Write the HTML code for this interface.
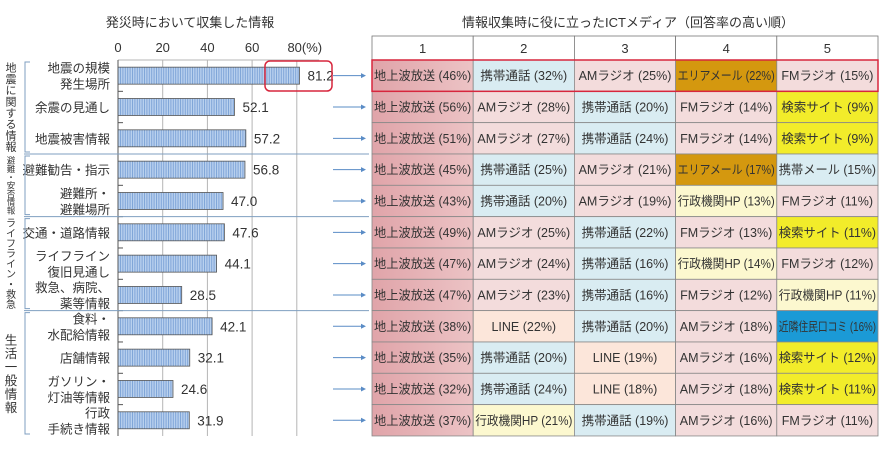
<!DOCTYPE html>
<html><head><meta charset="utf-8">
<style>
html,body{margin:0;padding:0;background:#fff;}
svg{display:block;font-family:"Liberation Sans","Noto Sans CJK JP",sans-serif;}
</style></head>
<body>
<svg id="chart" width="893" height="454" viewBox="0 0 893 454" xmlns="http://www.w3.org/2000/svg">
<defs>
<pattern id="stripes" width="2.4" height="10" patternUnits="userSpaceOnUse">
<rect width="2.4" height="10" fill="#b9d1ee"/>
<rect width="1" height="10" fill="#7ea4d8"/>
</pattern>
<linearGradient id="g1" x1="0" x2="1" y1="0" y2="0">
<stop offset="0" stop-color="#e0a4a9"/><stop offset="1" stop-color="#ecc3c5"/>
</linearGradient>
</defs>
<text x="190" y="27" font-size="13" text-anchor="middle" fill="#333">発災時において収集した情報</text>
<text x="628" y="27" font-size="13" text-anchor="middle" fill="#333">情報収集時に役に立ったICTメディア（回答率の高い順）</text>
<g id="bars"></g>
<g id="table"></g>
</svg>
<script>
const categories = ["地震の規模|発生場所","余震の見通し","地震被害情報","避難勧告・指示","避難所・|避難場所","交通・道路情報","ライフライン|復旧見通し","救急、病院、|薬等情報","食料・|水配給情報","店舗情報","ガソリン・|灯油等情報","行政|手続き情報"];
const values = [81.2,52.1,57.2,56.8,47.0,47.6,44.1,28.5,42.1,32.1,24.6,31.9];
const ticks = [0,20,40,60,80];
const groups = ["地震に関する情報","避難・安否情報","ライフライン・救急","生活一般情報"];
const groupRows = [[0,2],[3,4],[5,7],[8,11]];
const colHeaders = ["1","2","3","4","5"];
const media = [
["地上波放送","携帯通話","AMラジオ","エリアメール","FMラジオ"],
["地上波放送","AMラジオ","携帯通話","FMラジオ","検索サイト"],
["地上波放送","AMラジオ","携帯通話","FMラジオ","検索サイト"],
["地上波放送","携帯通話","AMラジオ","エリアメール","携帯メール"],
["地上波放送","携帯通話","AMラジオ","行政機関HP","FMラジオ"],
["地上波放送","AMラジオ","携帯通話","FMラジオ","検索サイト"],
["地上波放送","AMラジオ","携帯通話","行政機関HP","FMラジオ"],
["地上波放送","AMラジオ","携帯通話","FMラジオ","行政機関HP"],
["地上波放送","LINE","携帯通話","AMラジオ","近隣住民口コミ"],
["地上波放送","携帯通話","LINE","AMラジオ","検索サイト"],
["地上波放送","携帯通話","LINE","AMラジオ","検索サイト"],
["地上波放送","行政機関HP","携帯通話","AMラジオ","FMラジオ"]];
const shares = [
[46,32,25,22,15],[56,28,20,14,9],[51,27,24,14,9],[45,25,21,17,15],[43,20,19,13,11],[49,25,22,13,11],
[47,24,16,14,12],[47,23,16,12,11],[38,22,20,18,16],[35,20,19,16,12],[32,24,18,18,11],[37,21,19,16,11]];
const mediaColor = {"地上波放送":"url(#g1)","携帯通話":"#d9ecf2","AMラジオ":"#f3dcdc","FMラジオ":"#f3dcdc","エリアメール":"#d4980f","検索サイト":"#f2ec2a","携帯メール":"#d9ecf2","行政機関HP":"#fcf8cf","LINE":"#fce6da","近隣住民口コミ":"#1b9ad6"};

const NS="http://www.w3.org/2000/svg";
function mk(parent,tag,attrs,text){const e=document.createElementNS(NS,tag);for(const k in attrs)e.setAttribute(k,attrs[k]);if(text!==undefined)e.textContent=text;parent.appendChild(e);return e;}
const x0=118, pxPer=2.235, topY=60, rowH=31.33;
const xs=v=>x0+v*pxPer;
const yRow=i=>topY+i*rowH;
const gb=document.getElementById('bars');
const n=categories.length, bottomY=yRow(n);
ticks.forEach(t=>{
 if(t>0){const l=mk(gb,'line',{x1:xs(t),x2:xs(t),y1:topY,y2:bottomY,stroke:'#b5b5b5','stroke-width':1});
 
 }
 const tx=mk(gb,'text',{x:xs(t)+(t===80?8:0),y:52,'font-size':13,'text-anchor':'middle',fill:'#333'},t===80?'80(%)':String(t));
 
 
});
const topLine=mk(gb,'line',{x1:x0,x2:xs(90),y1:topY,y2:topY,stroke:'#b5b5b5'});


const ax=mk(gb,'line',{x1:x0,x2:x0,y1:topY,y2:bottomY,stroke:'#555'});


for(let i=1;i<n;i++){const t=mk(gb,'line',{x1:x0,x2:x0+5,y1:yRow(i),y2:yRow(i),stroke:'#555'});
 
 }
categories.forEach((c,i)=>{
 const cy=yRow(i)+rowH/2;
 const b=mk(gb,'rect',{x:x0,y:cy-8.5,width:values[i]*pxPer,height:17,fill:'url(#stripes)',stroke:'#555','stroke-width':0.8});
 
 
 const v=mk(gb,'text',{x:xs(values[i])+8,y:cy+5,'font-size':13.5,fill:'#333'},values[i].toFixed(1));
 
 
 const parts=c.split('|');
 parts.forEach((p,k)=>{const off=parts.length===1?5:(k===0?-3:13);
  const l=mk(gb,'text',{x:110,y:cy+off,'font-size':12.5,'text-anchor':'end',fill:'#333'},p);
  
  });
 const ar=mk(gb,'line',{x1:333,x2:362,y1:cy,y2:cy,stroke:'#5a8cc6','stroke-width':1});
 
 
 const ah=mk(gb,'polygon',{points:`${366},${cy} ${361},${cy-2.5} ${361},${cy+2.5}`,fill:'#5a8cc6'});
 
 
});
const steps=[11.3,8.3,10.2,13.5], fsz=[11,8.5,10,12.5];
groupRows.forEach((r,gi)=>{
 const y1=yRow(r[0])+2, y2=yRow(r[1]+1)-2;
 const br=mk(gb,'path',{d:`M30 ${y1} H25 V${y2} H30`,fill:'none',stroke:'#7f9fc0'});
 
 
 if(gi>0){const s=mk(gb,'line',{x1:24,x2:369,y1:yRow(r[0]),y2:yRow(r[0]),stroke:'#7f9fc0'});
  
  }
 const chars=[...groups[gi]];
 const mid=(y1+y2)/2, st=steps[gi];
 const t=mk(gb,'text',{'font-size':fsz[gi],'text-anchor':'middle',fill:'#333'});
 
 
 chars.forEach((ch,k)=>{mk(t,'tspan',{x:11,y:mid-(chars.length-1)*st/2+k*st+fsz[gi]*0.38},ch);});
});
const rb=mk(gb,'rect',{x:265,y:61,width:67,height:30,rx:5,fill:'none',stroke:'#d7263d','stroke-width':1.5});


const gt=document.getElementById('table');
const tx0=372, cw=101.2, hTop=36;
colHeaders.forEach((h,j)=>{
 const r=mk(gt,'rect',{x:tx0+j*cw,y:hTop,width:cw,height:topY-hTop,fill:'#fff',stroke:'#777','stroke-width':0.8});
 
 
 const t=mk(gt,'text',{x:tx0+j*cw+cw/2,y:hTop+17,'font-size':13,'text-anchor':'middle',fill:'#333'},h);
 
 
});
media.forEach((row,i)=>{
 row.forEach((m,j)=>{
  const x=tx0+j*cw,y=yRow(i);
  const r=mk(gt,'rect',{x:x,y:y,width:cw,height:rowH,fill:mediaColor[m]||'#f3dcdc',stroke:'#888','stroke-width':0.8});
  
  
  const label=m+' ('+shares[i][j]+'%)';
  const t=mk(gt,'text',{x:x+cw/2,y:y+rowH/2+4.5,'font-size':12.5,'text-anchor':'middle',fill:'#333'},label);
  
  
  const w=t.getComputedTextLength();
  if(w>cw-4){t.setAttribute('textLength',cw-4);t.setAttribute('lengthAdjust','spacingAndGlyphs');}
 });
});
const tb=mk(gt,'rect',{x:tx0,y:topY,width:cw*5,height:rowH,fill:'none',stroke:'#d7263d','stroke-width':1.5});


</script>
</body></html>
